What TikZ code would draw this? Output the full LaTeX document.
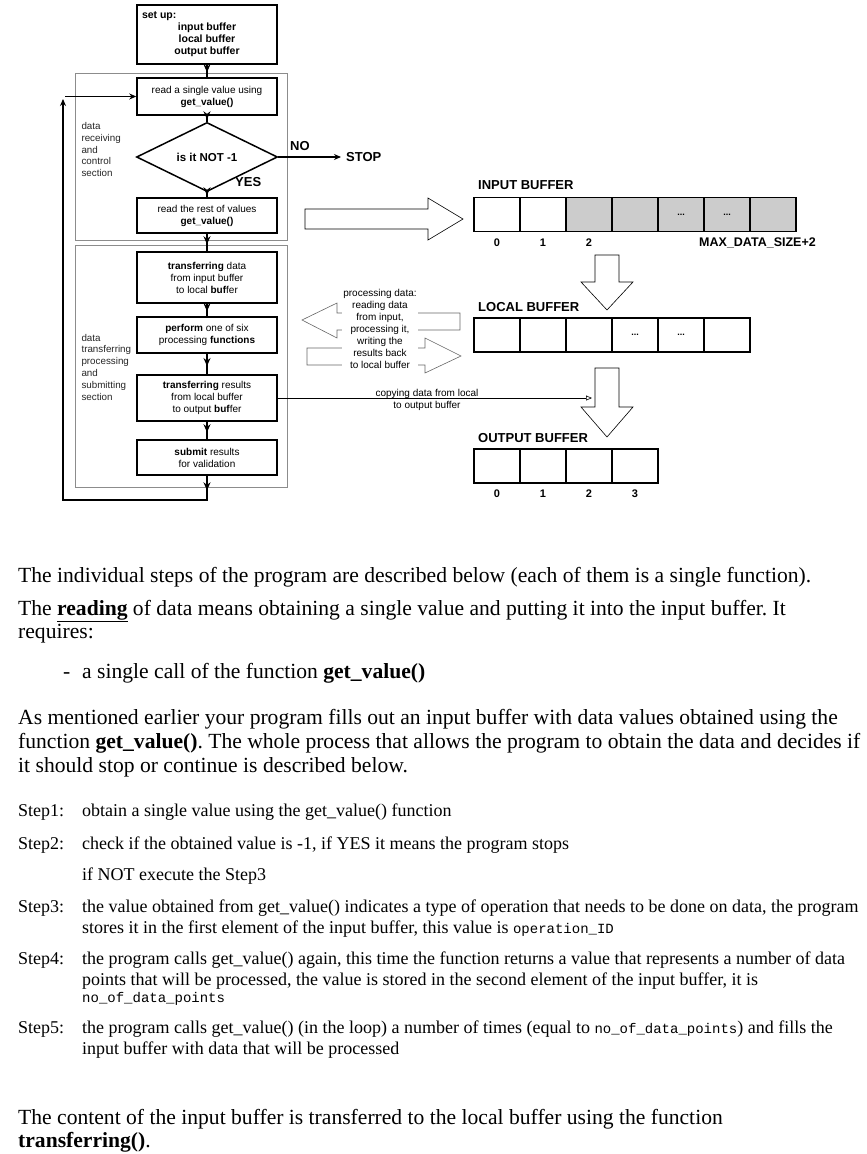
\documentclass[tikz,border=0pt]{standalone}
\usepackage{fontspec}
\setmainfont{Liberation Serif}
\newfontfamily\diagfont{Liberation Sans}
\newfontfamily\codefont{Liberation Mono}
\usetikzlibrary{arrows.meta,shapes.geometric,decorations.markings}

\newcommand{\fsz}[2]{\fontsize{#1}{#2}\selectfont}
\newcommand{\more}{...}
\definecolor{bufgray}{RGB}{204,204,204}
\frenchspacing

\begin{document}
\begin{tikzpicture}[x=1pt, y=-1pt,
    >={Stealth[length=7pt,width=6pt]},
    box/.style = {
      draw,
      line width = 1.5pt,
      minimum width = 140pt,
      inner sep = 0pt,
      align = center,
      font = \diagfont\fsz{10}{12}
    },
    decision/.style = {
      draw,
      diamond,
      line width = 1.5pt,
      minimum width = 141pt,
      minimum height = 50pt,
      inner sep = 0pt,
      font = \diagfont\bfseries\fsz{11.5}{12}
    },
    section/.style = {draw = black!45, line width = 0.7pt},
    sectext/.style = {anchor = west, align = left, text = black!85,
      font = \diagfont\fsz{9.8}{11.8}},
    flow/.style = {
      line width = 1.5pt,
      postaction = decorate,
      decoration = {markings,
        mark = at position 0.6 with {\arrow{Stealth[length=8pt,width=7pt]}}}
    },
    wire/.style = {line width = 1.5pt},
    hollow/.style = {draw, line width = 0.6pt},
    cell/.style = {
      draw,
      line width = 1.5pt,
      minimum width = 46pt,
      minimum height = 34pt,
      inner sep = 0pt,
      font = \diagfont\bfseries\fsz{9}{9}
    },
    head/.style = {anchor = west, inner sep = 0pt, font = \diagfont\bfseries\fsz{13}{13}},
    idx/.style = {inner sep = 0pt, font = \diagfont\bfseries\fsz{11}{11}},
    note/.style = {align = center, font = \diagfont\fsz{10}{12}},
    para/.style = {anchor = base west, inner sep = 0pt, font = \fsz{21.6}{24}},
    steptext/.style = {anchor = base west, inner sep = 0pt, font = \fsz{18}{21}}
  ]
  \useasboundingbox (0,0) rectangle (867,1154);

  % sections
  \draw[section] (75,73) rectangle (287,240);
  \draw[section] (75,245) rectangle (287,487);
  \node[sectext] (sec1) at (78,149.5) {data\\receiving\\and\\control\\section};
  \node[sectext] (sec2) at (78,367) {data\\transferring\\processing\\and\\submitting\\section};

  % flow chart
  \node[box, minimum height=59pt, font=\diagfont\bfseries\fsz{10.5}{12}] (setup) at (207,34.5)
    {\makebox[130pt][l]{set up:}\\input buffer\\local buffer\\output buffer};
  \node[box, minimum height=37pt] (read) at (207,96.5) {read a single value using\\\textbf{get\_value()}};
  \node[decision] (check) at (207,157) {is it NOT -1};
  \node[box, minimum height=35pt] (rest) at (207,215.5) {read the rest of values\\\textbf{get\_value()}};
  \node[box, minimum height=51pt] (transfer) at (207,277.5)
    {\textbf{transferring} data\\from input buffer\\to local \textbf{buf}fer};
  \node[box, minimum height=36pt] (perform) at (207,335) {\textbf{perform} one of six\\processing \textbf{functions}};
  \node[box, minimum height=46pt] (results) at (207,398)
    {\textbf{transferring} results\\from local buffer\\to output \textbf{buf}fer};
  \node[box, minimum height=35pt] (submit) at (207,457.5) {\textbf{submit} results\\for validation};

  \draw[flow] (setup.south) -- (read.north);
  \draw[flow] (read.south) -- (check.north);
  \draw[flow] (check.south) -- (rest.north);
  \draw[flow] (rest.south) -- (transfer.north);
  \draw[flow] (transfer.south) -- (perform.north);
  \draw[flow] (perform.south) -- (results.north);
  \draw[flow] (results.south) -- (submit.north);

  % loop back
  \coordinate (loopB) at (207,500);
  \coordinate (loopL) at (63,500);
  \coordinate (loopT) at (63,99);
  \coordinate (loopIn) at (65,96.5);
  \draw[wire,->] (submit.south) -- (loopB) -- (loopL) -- (loopT);
  \draw[flow] (submit.south) -- (loopB);
  \draw[wire,->] (loopIn) -- (read.west);

  % stop
  \coordinate (nostop) at (341,157);
  \draw[wire,->] (check.east) -- (nostop);
  \node[head] (no) at (290,146) {NO};
  \node[head] (stop) at (346,157) {STOP};
  \node[head] (yes) at (235,182) {YES};

  % hollow arrows
  \draw[hollow] (305,209) -- (428,209) -- (428,198) -- (463,219) -- (428,240) -- (428,229) -- (305,229) -- cycle;
  \draw[hollow] (595,255) -- (619,255) -- (619,282) -- (633,282) -- (607,310) -- (581,282) -- (595,282) -- cycle;
  \draw[hollow] (595,368) -- (619,368) -- (619,407) -- (633,407) -- (607,437) -- (581,407) -- (595,407) -- cycle;

  % processing
  \draw[hollow, draw=black!60] (460,313) -- (337,313) -- (337,303) -- (302,320) -- (337,338) -- (337,330) -- (460,330) -- cycle;
  \draw[hollow, draw=black!60] (307,348) -- (425,348) -- (425,338) -- (461,356) -- (425,373) -- (425,365) -- (307,365) -- cycle;
  \node[note, fill=white, inner sep=1pt] (proc) at (380,329)
    {processing data:\\reading data\\from input,\\processing it,\\writing the\\results back\\to local buffer};

  % copying
  \coordinate (copyend) at (592,398);
  \draw[line width=0.6pt, -{Triangle[open,length=6pt,width=5pt]}] (results.east) -- (copyend);
  \node[note] (copy) at (427,400) {copying data from local\\to output buffer};

  % input buffer
  \node[head] (inhead) at (478,185) {INPUT BUFFER};
  \foreach \i/\c/\t in {0/white/{},1/white/{},2/bufgray/{},3/bufgray/{},4/bufgray/\more,5/bufgray/\more,6/bufgray/{}}
    \node[cell, fill=\c] (in\i) at (497+46*\i,214.5) {\t};
  \foreach \i in {0,1,2}
    \node[idx] (inidx\i) at (497+46*\i,243) {\i};
  \node[idx, anchor=east, font=\diagfont\bfseries\fsz{12.5}{12.5}] (inmax) at (816,243) {MAX\_DATA\_SIZE+2};

  % local buffer
  \node[head] (lochead) at (478,307) {LOCAL BUFFER};
  \foreach \i/\t in {0/{},1/{},2/{},3/\more,4/\more,5/{}}
    \node[cell] (loc\i) at (497+46*\i,335) {\t};

  % output buffer
  \node[head] (outhead) at (478,438) {OUTPUT BUFFER};
  \foreach \i in {0,1,2,3} {
    \node[cell] (out\i) at (497+46*\i,466) {};
    \node[idx] (outidx\i) at (497+46*\i,494) {\i};
  }

  % text
  \node[para] (p1) at (18,582) {The individual steps of the program are described below (each of them is a single function).};
  \node[para] (p2) at (18,615) {The \underline{\textbf{reading}} of data means obtaining a single value and putting it into the input buffer. It};
  \node[para] (p3) at (18,638) {requires:};
  \node[para] (dash) at (63,678) {-};
  \node[para] (p4) at (82,678) {a single call of the function \textbf{get\_value()}};
  \node[para] (p5) at (18,724) {As mentioned earlier your program fills out an input buffer with data values obtained using the};
  \node[para] (p6) at (18,748) {function \textbf{get\_value()}. The whole process that allows the program to obtain the data and decides if};
  \node[para] (p7) at (18,772) {it should stop or continue is described below.};

  \node[steptext] (s1) at (18,816) {Step1:};
  \node[steptext] (s1a) at (82,816) {obtain a single value using the get\_value() function};
  \node[steptext] (s2) at (18,849) {Step2:};
  \node[steptext] (s2a) at (82,849) {check if the obtained value is -1, if YES it means the program stops};
  \node[steptext] (s2b) at (82,880) {if NOT execute the Step3};
  \node[steptext] (s3) at (18,912) {Step3:};
  \node[steptext] (s3a) at (82,912) {the value obtained from get\_value() indicates a type of operation that needs to be done on data, the program};
  \node[steptext] (s3b) at (82,933) {stores it in the first element of the input buffer, this value is {\codefont\fsz{14}{14}operation\_ID}};
  \node[steptext] (s4) at (18,964) {Step4:};
  \node[steptext] (s4a) at (82,964) {the program calls get\_value() again, this time the function returns a value that represents a number of data};
  \node[steptext] (s4b) at (82,985) {points that will be processed, the value is stored in the second element of the input buffer, it is};
  \node[steptext, font=\codefont\fsz{14}{14}] (s4c) at (82,1002) {no\_of\_data\_points};
  \node[steptext] (s5) at (18,1033) {Step5:};
  \node[steptext] (s5a) at (82,1033) {the program calls get\_value() (in the loop) a number of times (equal to {\codefont\fsz{14}{14}no\_of\_data\_points}) and fills the};
  \node[steptext] (s5b) at (82,1054) {input buffer with data that will be processed};

  \node[para] (p8) at (18,1124) {The content of the input buffer is transferred to the local buffer using the function};
  \node[para] (p9) at (18,1147) {\textbf{transferring()}.};
\end{tikzpicture}
\end{document}
